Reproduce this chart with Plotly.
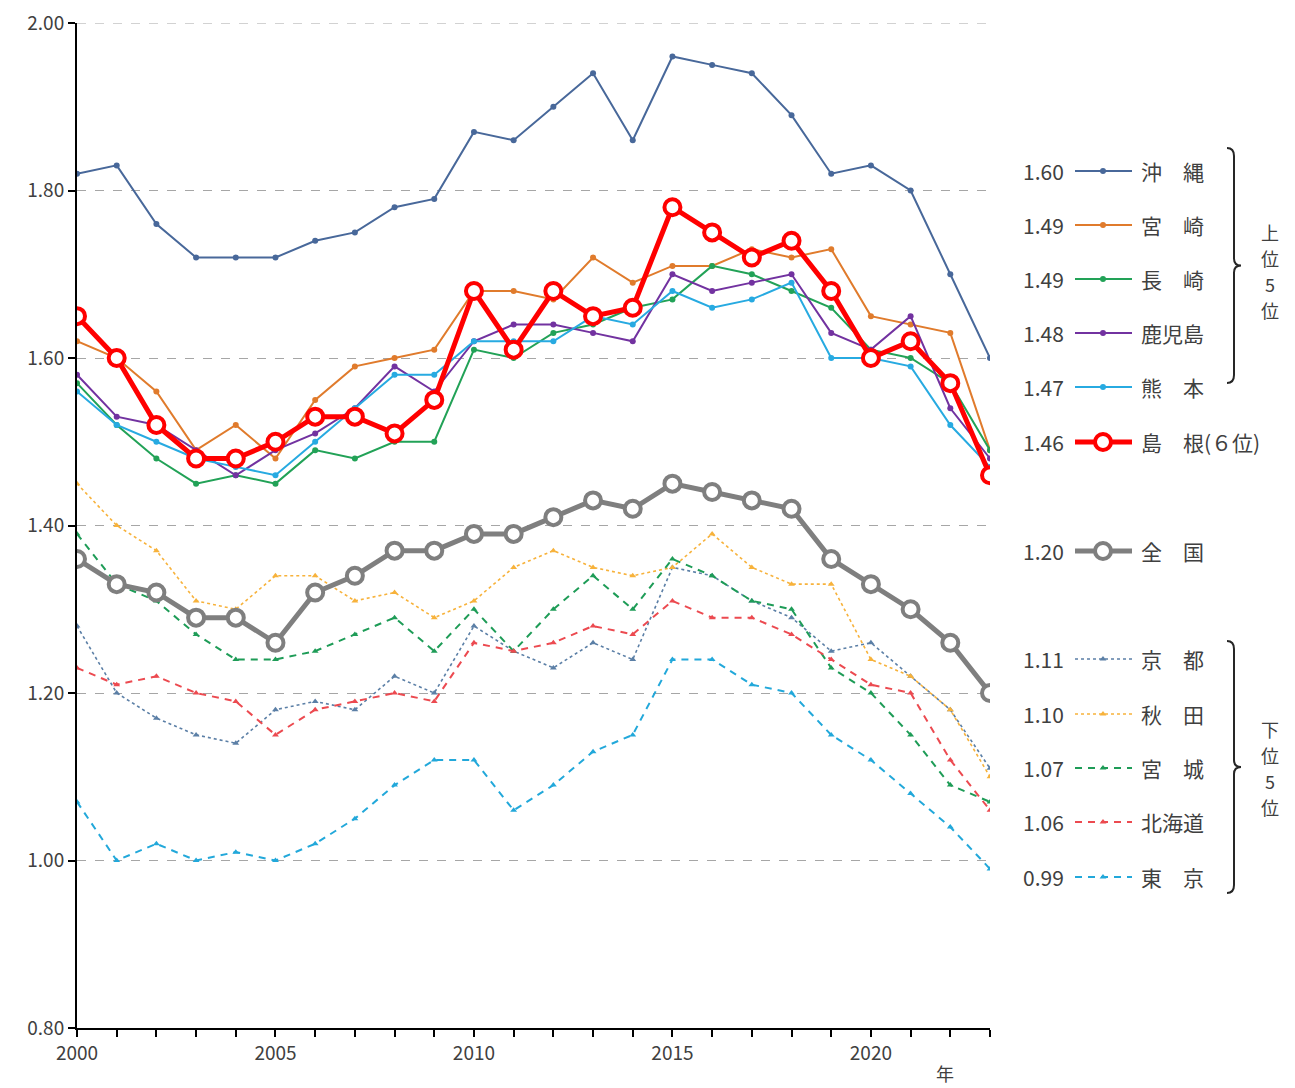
import plotly.graph_objects as go

years = list(range(2000, 2024))

okinawa   = [1.82,1.83,1.76,1.72,1.72,1.72,1.74,1.75,1.78,1.79,1.87,1.86,1.90,1.94,1.86,1.96,1.95,1.94,1.89,1.82,1.83,1.80,1.70,1.60]
miyazaki  = [1.62,1.60,1.56,1.49,1.52,1.48,1.55,1.59,1.60,1.61,1.68,1.68,1.67,1.72,1.69,1.71,1.71,1.73,1.72,1.73,1.65,1.64,1.63,1.49]
nagasaki  = [1.57,1.52,1.48,1.45,1.46,1.45,1.49,1.48,1.50,1.50,1.61,1.60,1.63,1.64,1.66,1.67,1.71,1.70,1.68,1.66,1.61,1.60,1.57,1.49]
kagoshima = [1.58,1.53,1.52,1.49,1.46,1.49,1.51,1.54,1.59,1.56,1.62,1.64,1.64,1.63,1.62,1.70,1.68,1.69,1.70,1.63,1.61,1.65,1.54,1.48]
kumamoto  = [1.56,1.52,1.50,1.48,1.47,1.46,1.50,1.54,1.58,1.58,1.62,1.62,1.62,1.65,1.64,1.68,1.66,1.67,1.69,1.60,1.60,1.59,1.52,1.47]
shimane   = [1.65,1.60,1.52,1.48,1.48,1.50,1.53,1.53,1.51,1.55,1.68,1.61,1.68,1.65,1.66,1.78,1.75,1.72,1.74,1.68,1.60,1.62,1.57,1.46]
national  = [1.36,1.33,1.32,1.29,1.29,1.26,1.32,1.34,1.37,1.37,1.39,1.39,1.41,1.43,1.42,1.45,1.44,1.43,1.42,1.36,1.33,1.30,1.26,1.20]
kyoto     = [1.28,1.20,1.17,1.15,1.14,1.18,1.19,1.18,1.22,1.20,1.28,1.25,1.23,1.26,1.24,1.35,1.34,1.31,1.29,1.25,1.26,1.22,1.18,1.11]
akita     = [1.45,1.40,1.37,1.31,1.30,1.34,1.34,1.31,1.32,1.29,1.31,1.35,1.37,1.35,1.34,1.35,1.39,1.35,1.33,1.33,1.24,1.22,1.18,1.10]
miyagi    = [1.39,1.33,1.31,1.27,1.24,1.24,1.25,1.27,1.29,1.25,1.30,1.25,1.30,1.34,1.30,1.36,1.34,1.31,1.30,1.23,1.20,1.15,1.09,1.07]
hokkaido  = [1.23,1.21,1.22,1.20,1.19,1.15,1.18,1.19,1.20,1.19,1.26,1.25,1.26,1.28,1.27,1.31,1.29,1.29,1.27,1.24,1.21,1.20,1.12,1.06]
tokyo     = [1.07,1.00,1.02,1.00,1.01,1.00,1.02,1.05,1.09,1.12,1.12,1.06,1.09,1.13,1.15,1.24,1.24,1.21,1.20,1.15,1.12,1.08,1.04,0.99]

y_ticks = [0.80, 1.00, 1.20, 1.40, 1.60, 1.80, 2.00]
group_top = ["上", "位", "5", "位"]
group_bottom = ["下", "位", "5", "位"]

JP = "Noto Sans CJK JP"
TXT = "#404040"
GRID = "#A6A6A6"

# (name, label, data, color, width, dash, symbol, msize, style)
series = [
    ("京都",   "京　都", kyoto,     "#5B7FA6", 1.6, "dot",     "triangle-up", 6, "small"),
    ("秋田",   "秋　田", akita,     "#F7B23B", 1.6, "dot",     "triangle-up", 6, "small"),
    ("宮城",   "宮　城", miyagi,    "#1E9C57", 2.0, "7px,6px", "triangle-up", 6, "small"),
    ("北海道", "北海道", hokkaido,  "#EC4A50", 2.0, "7px,6px", "triangle-up", 6, "small"),
    ("東京",   "東　京", tokyo,     "#22A8DA", 2.0, "7px,6px", "triangle-up", 6, "small"),
    ("沖縄",   "沖　縄", okinawa,   "#48689A", 2.0, "solid",   "circle",      6, "small"),
    ("宮崎",   "宮　崎", miyazaki,  "#E07B2C", 2.0, "solid",   "circle",      6, "small"),
    ("長崎",   "長　崎", nagasaki,  "#22A257", 2.0, "solid",   "circle",      6, "small"),
    ("鹿児島", "鹿児島", kagoshima, "#7232A0", 2.0, "solid",   "circle",      6, "small"),
    ("熊本",   "熊　本", kumamoto,  "#27AAE1", 2.0, "solid",   "circle",      6, "small"),
    ("全国",   "全　国", national,  "#7F7F7F", 5.0, "solid",   "circle",      16, "big"),
    ("島根",   "島　根(６位)", shimane, "#FF0000", 5.0, "solid", "circle",   16, "big"),
]

def make_marker(symbol, msize, color, style):
    if style == "big":
        return dict(symbol=symbol, size=msize, color="white", line=dict(color=color, width=4))
    return dict(symbol=symbol, size=msize, color=color, line=dict(width=0))

fig = go.Figure()

for name, label, data, color, width, dash, symbol, msize, style in series:
    fig.add_trace(go.Scatter(x=years, y=data, mode="lines+markers", name=name,
                             line=dict(color=color, width=width, dash=dash),
                             marker=make_marker(symbol, msize, color, style),
                             showlegend=False, xaxis="x", yaxis="y"))

# ---- custom legend on secondary axes (page-pixel-like coordinates) ----
legend_order = ["沖縄", "宮崎", "長崎", "鹿児島", "熊本", "島根", "全国", "京都", "秋田", "宮城", "北海道", "東京"]
legend_rows = [171, 225, 279, 333, 387, 442, 551, 659, 714, 768, 822, 877]
lookup = {s[0]: s for s in series}
annotations = []
for nm, ry in zip(legend_order, legend_rows):
    name, label, data, color, width, dash, symbol, msize, style = lookup[nm]
    fig.add_trace(go.Scatter(x=[1075, 1132], y=[ry, ry], mode="lines",
                             line=dict(color=color, width=width, dash=dash),
                             showlegend=False, xaxis="x2", yaxis="y2", hoverinfo="skip"))
    fig.add_trace(go.Scatter(x=[1103], y=[ry], mode="markers",
                             marker=make_marker(symbol, msize, color, style),
                             showlegend=False, xaxis="x2", yaxis="y2", hoverinfo="skip"))
    annotations.append(dict(x=1066, y=ry, xref="x2", yref="y2", text=f"{data[-1]:.2f}",
                            showarrow=False, xanchor="right", yanchor="middle",
                            font=dict(family=JP, size=21, color=TXT)))
    annotations.append(dict(x=1139, y=ry, xref="x2", yref="y2", text=label,
                            showarrow=False, xanchor="left", yanchor="middle",
                            font=dict(family=JP, size=21, color=TXT)))

for chars, y0 in ((group_top, 232), (group_bottom, 729)):
    for i, ch in enumerate(chars):
        annotations.append(dict(x=1270, y=y0 + i * 26, xref="x2", yref="y2", text=ch,
                                showarrow=False, xanchor="center", yanchor="middle",
                                font=dict(family=JP, size=18, color=TXT)))

def brace(top, bot):
    mid = (top + bot) / 2
    return (f"M 1227 {top} Q 1234 {top} 1234 {top+8} L 1234 {mid-7} "
            f"Q 1234 {mid} 1241 {mid} Q 1234 {mid} 1234 {mid+7} "
            f"L 1234 {bot-8} Q 1234 {bot} 1227 {bot}")

shapes = [
    dict(type="path", path=brace(148, 383), xref="x2", yref="y2",
         line=dict(color="#262626", width=2)),
    dict(type="path", path=brace(641, 893), xref="x2", yref="y2",
         line=dict(color="#262626", width=2)),
    # top gridline (plotly drops the gridline at the very edge of the range)
    dict(type="line", xref="x domain", yref="y", x0=0, x1=1, y0=y_ticks[-1], y1=y_ticks[-1],
         line=dict(color=GRID, width=1, dash="dash"), layer="below"),
]

# page body has an 8px margin, so the figure is offset by 8px
OFF = 8
PL, PR, PT, PB = 77, 1290, 23, 1028  # target plot rectangle on the page
W, H = 1295 - OFF, 1088 - OFF
pw = PR - PL
ph = PB - PT
xdom_end = (990 - PL) / pw

annotations.append(dict(x=(945 - PL) / pw, y=(PB - 1073) / ph, xref="paper", yref="paper",
                        text="年", showarrow=False, xanchor="center", yanchor="middle",
                        font=dict(family=JP, size=18, color=TXT)))

fig.update_layout(
    width=W, height=H,
    margin=dict(l=PL - OFF, r=W - (PR - OFF), t=PT - OFF, b=H - (PB - OFF), autoexpand=False),
    paper_bgcolor="white", plot_bgcolor="white",
    annotations=annotations, shapes=shapes,
    xaxis=dict(domain=[0, xdom_end], range=[2000, 2023], automargin=False,
               tickmode="array", tickvals=years,
               ticktext=[str(y) if y % 5 == 0 else "" for y in years],
               ticks="outside", ticklen=7, tickwidth=1.5, tickcolor="black",
               showline=True, linecolor="black", linewidth=2,
               showgrid=False, zeroline=False,
               tickfont=dict(family=JP, size=19, color=TXT)),
    yaxis=dict(range=[0.80, 2.00], automargin=False, tickmode="array", tickvals=y_ticks,
               ticktext=[f"{v:.2f}" for v in y_ticks],
               ticks="outside", ticklen=7, tickwidth=1.5, tickcolor="black",
               ticklabeloverflow="allow",
               showline=True, linecolor="black", linewidth=2,
               showgrid=True, gridcolor=GRID, griddash="dash", gridwidth=1,
               zeroline=False,
               tickfont=dict(family=JP, size=19, color=TXT)),
    xaxis2=dict(domain=[(1000 - PL) / pw, 1], range=[1000, 1290], visible=False,
                anchor="y2", fixedrange=True, automargin=False),
    yaxis2=dict(domain=[0, 1], range=[PB, PT], visible=False, anchor="x2", fixedrange=True,
                automargin=False),
)

fig.write_html("out.html")
